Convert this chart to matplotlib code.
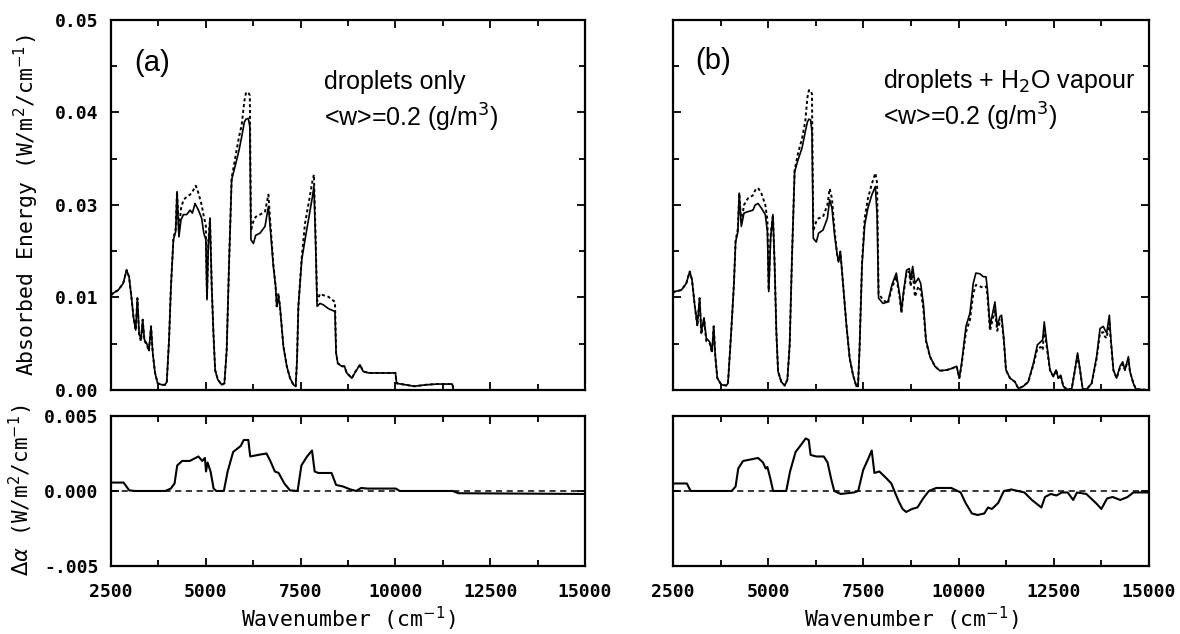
import matplotlib

matplotlib.use("Agg")
import matplotlib.pyplot as plt
import numpy as np
from matplotlib.ticker import FixedLocator, MultipleLocator

# === DATA ===
# panel (a): droplets only
wn_a = [
    2500, 2560, 2690, 2820, 2910, 2975, 3045, 3090, 3150, 3195, 3240, 3290, 3335,
    3380, 3440, 3500, 3555, 3600, 3660, 3730, 3840, 3925, 3970, 4030, 4080, 4145,
    4205, 4240, 4290, 4345, 4410, 4495, 4585, 4645, 4715, 4735, 4805, 4890, 4945,
    5000, 5030, 5065, 5110, 5155, 5200, 5245, 5315, 5420, 5490, 5550, 5610, 5680,
    5790, 5875, 5945, 6015, 6060, 6120, 6160, 6190, 6255, 6315, 6430, 6560, 6650,
    6695, 6780, 6840, 6870, 6915, 6955, 7045, 7135, 7220, 7310, 7370, 7405, 7440,
    7530, 7615, 7720, 7810, 7850, 7895, 7935, 8010, 8100, 8230, 8405, 8435, 8480,
    8585, 8655, 8715, 8850, 8950, 9065, 9150, 9300, 10000, 10030, 10500, 10800,
    11100, 11500, 11530, 15000,
]
abs_a_solid = [
    0.0128, 0.0131, 0.0135, 0.0144, 0.0162, 0.0153, 0.0122, 0.0099, 0.0081, 0.0124,
    0.0077, 0.0068, 0.0095, 0.0068, 0.0063, 0.0054, 0.0086, 0.0050, 0.0023, 0.0009,
    0.0007, 0.0007, 0.0011, 0.0068, 0.0140, 0.0203, 0.0214, 0.0268, 0.0207, 0.0230,
    0.0237, 0.0237, 0.0243, 0.0239, 0.0252, 0.0250, 0.0243, 0.0232, 0.0212, 0.0203,
    0.0122, 0.0194, 0.0230, 0.0140, 0.0077, 0.0027, 0.0014, 0.0007, 0.0009, 0.0054,
    0.0167, 0.0284, 0.0306, 0.0324, 0.0342, 0.0362, 0.0366, 0.0367, 0.0356, 0.0203,
    0.0198, 0.0209, 0.0212, 0.0221, 0.0248, 0.0221, 0.0167, 0.0140, 0.0113, 0.0126,
    0.0113, 0.0059, 0.0032, 0.0016, 0.0007, 0.0005, 0.0041, 0.0113, 0.0176, 0.0203,
    0.0234, 0.0261, 0.0275, 0.0198, 0.0113, 0.0117, 0.0115, 0.0110, 0.0106, 0.0050,
    0.0036, 0.0032, 0.0032, 0.0023, 0.0016, 0.0025, 0.0034, 0.0025, 0.0023, 0.0023,
    0.0009, 0.0005, 0.0007, 0.0008, 0.0008, 0.0, 0.0,
]
abs_a_dotted = [
    0.0128, 0.0131, 0.0135, 0.0144, 0.0162, 0.0153, 0.0122, 0.0099, 0.0081, 0.0124,
    0.0075, 0.0066, 0.0095, 0.0066, 0.0062, 0.0052, 0.0086, 0.0050, 0.0023, 0.0009,
    0.0007, 0.0007, 0.0011, 0.0068, 0.0140, 0.0205, 0.0218, 0.0268, 0.0215, 0.0245,
    0.0257, 0.0261, 0.0264, 0.0268, 0.0274, 0.0276, 0.0266, 0.0250, 0.0235, 0.0222,
    0.0125, 0.0200, 0.0232, 0.0140, 0.0077, 0.0027, 0.0014, 0.0007, 0.0009, 0.0054,
    0.0167, 0.0286, 0.0318, 0.0342, 0.0358, 0.0390, 0.0402, 0.0402, 0.0398, 0.0215,
    0.0228, 0.0234, 0.0237, 0.0241, 0.0264, 0.0230, 0.0170, 0.0140, 0.0113, 0.0131,
    0.0113, 0.0059, 0.0032, 0.0016, 0.0007, 0.0005, 0.0041, 0.0113, 0.0180, 0.0225,
    0.0255, 0.0282, 0.0291, 0.0205, 0.0120, 0.0130, 0.0128, 0.0126, 0.0119, 0.0050,
    0.0036, 0.0032, 0.0032, 0.0023, 0.0016, 0.0025, 0.0034, 0.0025, 0.0023, 0.0023,
    0.0009, 0.0005, 0.0007, 0.0008, 0.0008, 0.0, 0.0,
]

# panel (b): droplets + H2O vapour
wn_b = [
    2500, 2545, 2720, 2850, 2940, 3000, 3070, 3140, 3200, 3245, 3315, 3375, 3465,
    3525, 3570, 3610, 3665, 3770, 3900, 3945, 4030, 4100, 4145, 4205, 4240, 4295,
    4365, 4470, 4600, 4660, 4735, 4820, 4925, 4980, 5015, 5065, 5125, 5170, 5215,
    5260, 5345, 5435, 5505, 5565, 5625, 5695, 5785, 5890, 5975, 6030, 6070, 6115,
    6150, 6185, 6265, 6325, 6440, 6555, 6615, 6675, 6745, 6815, 6850, 6895, 6940,
    7055, 7140, 7230, 7315, 7360, 7400, 7465, 7535, 7620, 7725, 7815, 7860, 7900,
    8015, 8145, 8250, 8365, 8455, 8500, 8550, 8635, 8705, 8740, 8795, 8855, 8945,
    9005, 9075, 9145, 9250, 9380, 9510, 9690, 9820, 9950, 10020, 10080, 10195,
    10300, 10385, 10455, 10560, 10650, 10720, 10755, 10825, 10895, 10955, 11015,
    11085, 11130, 11190, 11245, 11350, 11480, 11570, 11700, 11830, 11965, 12070,
    12155, 12210, 12250, 12315, 12400, 12490, 12560, 12620, 12680, 12750, 12840,
    12970, 13055, 13125, 13190, 13260, 13365, 13495, 13625, 13715, 13800, 13845,
    13890, 13960, 13995, 14065, 14150, 14240, 14310, 14370, 14460, 14500, 14590,
    14660, 15000,
]
abs_b_solid = [
    0.0131, 0.0133, 0.0135, 0.0144, 0.0160, 0.0149, 0.0115, 0.0088, 0.0124, 0.0079,
    0.0097, 0.0070, 0.0065, 0.0052, 0.0086, 0.0047, 0.0016, 0.0007, 0.0006, 0.0009,
    0.0079, 0.0142, 0.0200, 0.0214, 0.0266, 0.0221, 0.0239, 0.0241, 0.0243, 0.0250,
    0.0252, 0.0246, 0.0237, 0.0214, 0.0133, 0.0205, 0.0237, 0.0169, 0.0079, 0.0025,
    0.0011, 0.0006, 0.0014, 0.0061, 0.0178, 0.0295, 0.0311, 0.0327, 0.0349, 0.0362,
    0.0366, 0.0365, 0.0349, 0.0205, 0.0200, 0.0212, 0.0216, 0.0232, 0.0257, 0.0246,
    0.0209, 0.0182, 0.0173, 0.0187, 0.0160, 0.0088, 0.0043, 0.0020, 0.0005, 0.0005,
    0.0056, 0.0169, 0.0223, 0.0246, 0.0264, 0.0275, 0.0237, 0.0124, 0.0117, 0.0119,
    0.0142, 0.0158, 0.0128, 0.0106, 0.0131, 0.0162, 0.0164, 0.0149, 0.0167, 0.0144,
    0.0151, 0.0144, 0.0117, 0.0068, 0.0045, 0.0032, 0.0026, 0.0027, 0.0029, 0.0032,
    0.0016, 0.0036, 0.0086, 0.0104, 0.0144, 0.0158, 0.0157, 0.0153, 0.0153, 0.0137,
    0.0086, 0.0104, 0.0119, 0.0086, 0.0099, 0.0101, 0.0068, 0.0027, 0.0016, 0.0011,
    0.0002, 0.0005, 0.0011, 0.0036, 0.0061, 0.0065, 0.0068, 0.0092, 0.0063, 0.0027,
    0.0018, 0.0027, 0.0016, 0.0020, 0.0005, 0.0001, 0.0001, 0.0027, 0.0050, 0.0027,
    0.0001, 0.0001, 0.0009, 0.0045, 0.0083, 0.0086, 0.0081, 0.0077, 0.0101, 0.0072,
    0.0027, 0.0016, 0.0032, 0.0038, 0.0027, 0.0045, 0.0025, 0.0009, 0.0001, 0.0,
]
abs_b_dotted = [
    0.0131, 0.0133, 0.0135, 0.0144, 0.0160, 0.0149, 0.0115, 0.0086, 0.0124, 0.0075,
    0.0097, 0.0066, 0.0063, 0.0050, 0.0086, 0.0047, 0.0016, 0.0007, 0.0006, 0.0009,
    0.0079, 0.0142, 0.0202, 0.0218, 0.0266, 0.0225, 0.0250, 0.0259, 0.0263, 0.0270,
    0.0273, 0.0266, 0.0250, 0.0230, 0.0135, 0.0210, 0.0237, 0.0169, 0.0079, 0.0025,
    0.0011, 0.0006, 0.0014, 0.0061, 0.0178, 0.0297, 0.0320, 0.0340, 0.0363, 0.0395,
    0.0405, 0.0405, 0.0400, 0.0215, 0.0228, 0.0232, 0.0234, 0.0250, 0.0272, 0.0259,
    0.0215, 0.0182, 0.0173, 0.0187, 0.0160, 0.0088, 0.0043, 0.0020, 0.0005, 0.0005,
    0.0056, 0.0172, 0.0232, 0.0259, 0.0279, 0.0293, 0.0280, 0.0130, 0.0122, 0.0117,
    0.0138, 0.0153, 0.0124, 0.0104, 0.0128, 0.0158, 0.0160, 0.0140, 0.0160, 0.0126,
    0.0140, 0.0135, 0.0110, 0.0065, 0.0045, 0.0032, 0.0026, 0.0027, 0.0029, 0.0032,
    0.0016, 0.0034, 0.0078, 0.0095, 0.0130, 0.0142, 0.0140, 0.0138, 0.0140, 0.0130,
    0.0080, 0.0095, 0.0108, 0.0080, 0.0092, 0.0095, 0.0066, 0.0027, 0.0016, 0.0011,
    0.0002, 0.0005, 0.0011, 0.0034, 0.0056, 0.0058, 0.0054, 0.0085, 0.0058, 0.0027,
    0.0018, 0.0027, 0.0016, 0.0020, 0.0005, 0.0001, 0.0001, 0.0027, 0.0046, 0.0027,
    0.0001, 0.0001, 0.0009, 0.0042, 0.0077, 0.0078, 0.0072, 0.0070, 0.0094, 0.0068,
    0.0027, 0.0016, 0.0030, 0.0035, 0.0027, 0.0042, 0.0025, 0.0009, 0.0001, 0.0,
]

# difference panels
wn_da = [
    2500, 2830, 2980, 3130, 3930, 4075, 4175, 4245, 4375, 4575, 4805, 4905, 4975,
    5005, 5045, 5125, 5205, 5275, 5475, 5575, 5720, 5920, 6000, 6120, 6170, 6370,
    6600, 6700, 6820, 6920, 7070, 7220, 7420, 7520, 7670, 7800, 7870, 7965, 8315,
    8435, 8615, 8815, 8965, 9095, 9265, 10010, 10110, 11510, 11660, 15000,
]
diff_a = [
    0.00056, 0.00056, 0.00004, 0.0, 0.0, 0.00016, 0.0005, 0.0017, 0.0020, 0.0020,
    0.0023, 0.0020, 0.0022, 0.0013, 0.0019, 0.0013, 0.00016, 0.0, 0.0, 0.0013,
    0.0026, 0.0030, 0.0034, 0.0034, 0.0023, 0.0024, 0.0025, 0.0020, 0.0013, 0.0012,
    0.0005, 0.00004, 0.0, 0.0017, 0.0023, 0.0027, 0.0013, 0.0012, 0.0012, 0.0004,
    0.0003, 0.0001, 0.0, 0.0002, 0.00016, 0.00016, 0.0, 0.0, -0.00015, -0.0002,
]
wn_db = [
    2500, 2865, 2965, 4045, 4145, 4215, 4340, 4540, 4735, 4865, 4935, 4980, 5060,
    5130, 5475, 5575, 5720, 5870, 5985, 6065, 6115, 6265, 6460, 6560, 6655, 6735,
    6905, 7250, 7365, 7495, 7620, 7720, 7790, 7920, 8085, 8235, 8330, 8430, 8530,
    8625, 8775, 8920, 9070, 9220, 9415, 9810, 10055, 10185, 10350, 10500, 10675,
    10775, 10875, 11040, 11190, 11385, 11730, 11925, 12125, 12175, 12270, 12420,
    12570, 12715, 12865, 13010, 13110, 13355, 13605, 13750, 13900, 14045, 14245,
    14440, 14590, 15000,
]
diff_b = [
    0.0005, 0.0005, 0.0, 0.0, 0.0003, 0.0015, 0.0020, 0.0021, 0.0022, 0.0019,
    0.0015, 0.0016, 0.0008, 0.0, 0.0, 0.0013, 0.0026, 0.0031, 0.0035, 0.0034,
    0.0024, 0.0023, 0.0023, 0.0019, 0.0008, 0.0, -0.0002, -0.0001, 0.0, 0.0014,
    0.0021, 0.0027, 0.0012, 0.0013, 0.0009, 0.0005, -0.0001, -0.0007, -0.0012,
    -0.0014, -0.0012, -0.0011, -0.0005, 0.0, 0.0002, 0.0002, -0.0001, -0.0008,
    -0.0015, -0.0016, -0.0015, -0.0011, -0.0012, -0.0008, 0.0, 0.0001, -0.0001,
    -0.0006, -0.0010, -0.0011, -0.0004, -0.0002, -0.0003, -0.0001, -0.0001, -0.0006,
    -0.0001, -0.0002, -0.0008, -0.0012, -0.0005, -0.0004, -0.0006, -0.0004, -0.0001,
    -0.0001,
]

x_ticks = [2500, 5000, 7500, 10000, 12500, 15000]
x_tick_labels = ["2500", "5000", "7500", "10000", "12500", "15000"]
abs_tick_labels = ["0.00", "0.01", "0.03", "0.04", "0.05"]
diff_ticks = [-0.005, 0.0, 0.005]
diff_tick_labels = ["-.005", "0.000", "0.005"]

# === STYLE ===
mono = "DejaVu Sans Mono"
sans = "Liberation Sans"
tick_size = 13
plt.rcParams["axes.linewidth"] = 1.6
plt.rcParams["mathtext.fontset"] = "dejavusans"

fig = plt.figure(figsize=(11.8, 6.34), dpi=100)
fig.patch.set_facecolor("white")

ax_a = fig.add_axes([0.0941, 0.3849, 0.4017, 0.5836])
ax_da = fig.add_axes([0.0941, 0.1073, 0.4017, 0.2366])
ax_b = fig.add_axes([0.5703, 0.3849, 0.4034, 0.5836])
ax_db = fig.add_axes([0.5703, 0.1073, 0.4034, 0.2366])

dotted = (0, (1.6, 1.4))

for ax, wn, solid, dot in [
    (ax_a, wn_a, abs_a_solid, abs_a_dotted),
    (ax_b, wn_b, abs_b_solid, abs_b_dotted),
]:
    ax.plot(wn, dot, color="black", lw=1.4, linestyle=dotted)
    ax.plot(wn, solid, color="black", lw=1.2)
    ax.set_ylim(0, 0.05)
    ax.yaxis.set_major_locator(FixedLocator(np.linspace(0, 0.05, 5)))
    ax.yaxis.set_minor_locator(FixedLocator(np.linspace(0, 0.05, 9)))

for ax, wn, d in [(ax_da, wn_da, diff_a), (ax_db, wn_db, diff_b)]:
    ax.axhline(0, color="black", lw=1.1, linestyle=(0, (4, 3)))
    ax.plot(wn, d, color="black", lw=1.5)
    ax.set_ylim(-0.005, 0.005)
    ax.set_yticks(diff_ticks)
    ax.tick_params(axis="y", which="both", length=0)

for ax in [ax_a, ax_b, ax_da, ax_db]:
    ax.set_xlim(2500, 15000)
    ax.set_xticks(x_ticks)
    ax.xaxis.set_minor_locator(MultipleLocator(1250))
    ax.tick_params(
        which="both", direction="in", top=True, right=True, width=1.3, pad=9
    )
    ax.tick_params(which="major", length=6)
    ax.tick_params(which="minor", length=4)

for ax in [ax_a, ax_b]:
    ax.tick_params(axis="x", labelbottom=False)
ax_b.tick_params(axis="y", labelleft=False)
ax_db.tick_params(axis="y", labelleft=False)

ax_a.set_yticklabels(abs_tick_labels, fontfamily=mono, fontweight="bold", fontsize=tick_size)
ax_da.set_yticklabels(diff_tick_labels, fontfamily=mono, fontweight="bold", fontsize=tick_size)
for ax in [ax_da, ax_db]:
    ax.set_xticklabels(x_tick_labels, fontfamily=mono, fontweight="bold", fontsize=tick_size)
    ax.tick_params(axis="x", which="major", pad=12)
    ax.set_xlabel("Wavenumber (cm$^{-1}$)", fontfamily=mono, fontsize=15.5, labelpad=3)

# axis titles on the left
fig.text(0.022, 0.677, "Absorbed Energy (W/m$^{2}$/cm$^{-1}$)", rotation=90,
         ha="center", va="center", fontfamily=mono, fontsize=15.5)
fig.text(0.018, 0.226, r"$\Delta\alpha$ (W/m$^{2}$/cm$^{-1}$)", rotation=90,
         ha="center", va="center", fontfamily=mono, fontsize=15)

# panel annotations
ax_a.text(0.05, 0.884, "(a)", transform=ax_a.transAxes, fontfamily=sans,
          fontsize=21, va="center", ha="left")
ax_a.text(0.449, 0.833, "droplets only", transform=ax_a.transAxes,
          fontfamily=sans, fontsize=18, va="center", ha="left")
ax_a.text(0.449, 0.735, "<w>=0.2 (g/m$^{3}$)", transform=ax_a.transAxes,
          fontfamily=sans, fontsize=18, va="center", ha="left")
ax_b.text(0.047, 0.89, "(b)", transform=ax_b.transAxes, fontfamily=sans,
          fontsize=21, va="center", ha="left")
ax_b.text(0.442, 0.836, "droplets + H$_{2}$O vapour", transform=ax_b.transAxes,
          fontfamily=sans, fontsize=18, va="center", ha="left")
ax_b.text(0.442, 0.737, "<w>=0.2 (g/m$^{3}$)", transform=ax_b.transAxes,
          fontfamily=sans, fontsize=18, va="center", ha="left")

fig.savefig("out.png", dpi=100, facecolor="white")
